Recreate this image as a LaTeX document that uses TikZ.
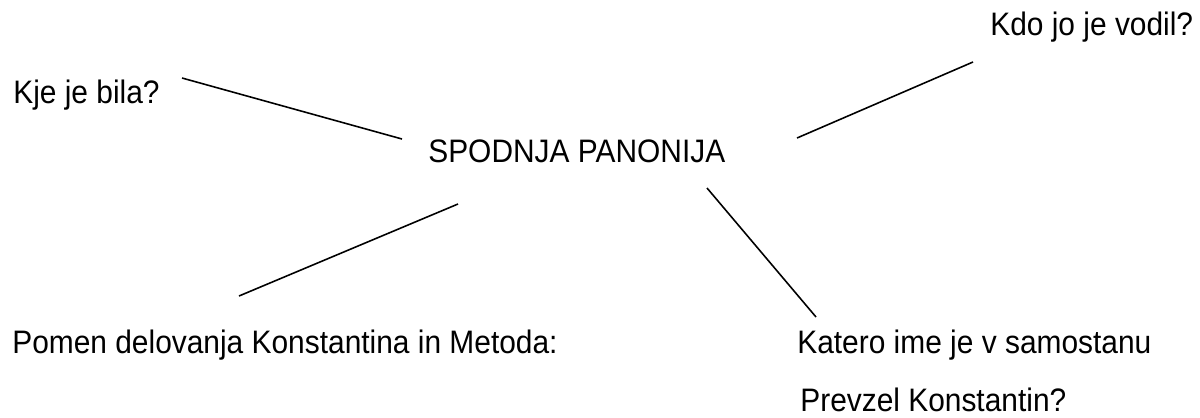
\documentclass[tikz,border=0pt]{standalone}
\usepackage{fontspec}
\setmainfont[FakeStretch=0.92]{Liberation Sans}
\begin{document}
\begin{tikzpicture}[x=0.02cm,y=-0.02cm,
    besedilo/.style={font=\fontsize{18.5}{22}\selectfont, inner sep=0pt, anchor=base west}]
        \useasboundingbox (0,0) rectangle (1200,417);
        % Osrednji pojem
        \node[besedilo] (pojem) at (428,162) {SPODNJA PANONIJA};
        % Vprasanja
        \node[besedilo] (kdo) at (990,35) {Kdo jo je vodil?};
        \node[besedilo] (kje) at (13,103) {Kje je bila?};
        \node[besedilo] (pomen) at (12,353) {Pomen delovanja Konstantina in Metoda:};
        \node[besedilo] (ime) at (797,353) {Katero ime je v samostanu};
        \node[besedilo] (prevzel) at (800,411) {Prevzel Konstantin?};
        % Crte
        \coordinate (kjeK) at (182,78);  \coordinate (kjeP) at (402,139);
        \coordinate (kdoK) at (973,62);  \coordinate (kdoP) at (797,138);
        \coordinate (pomenK) at (239,296); \coordinate (pomenP) at (458,204);
        \coordinate (imeK) at (816,317); \coordinate (imeP) at (707,188);
        \draw[line width=0.9pt] (kjeK) -- (kjeP);
        \draw[line width=0.9pt] (kdoP) -- (kdoK);
        \draw[line width=0.9pt] (pomenP) -- (pomenK);
        \draw[line width=0.9pt] (imeP) -- (imeK);
    \end{tikzpicture}
\end{document}
